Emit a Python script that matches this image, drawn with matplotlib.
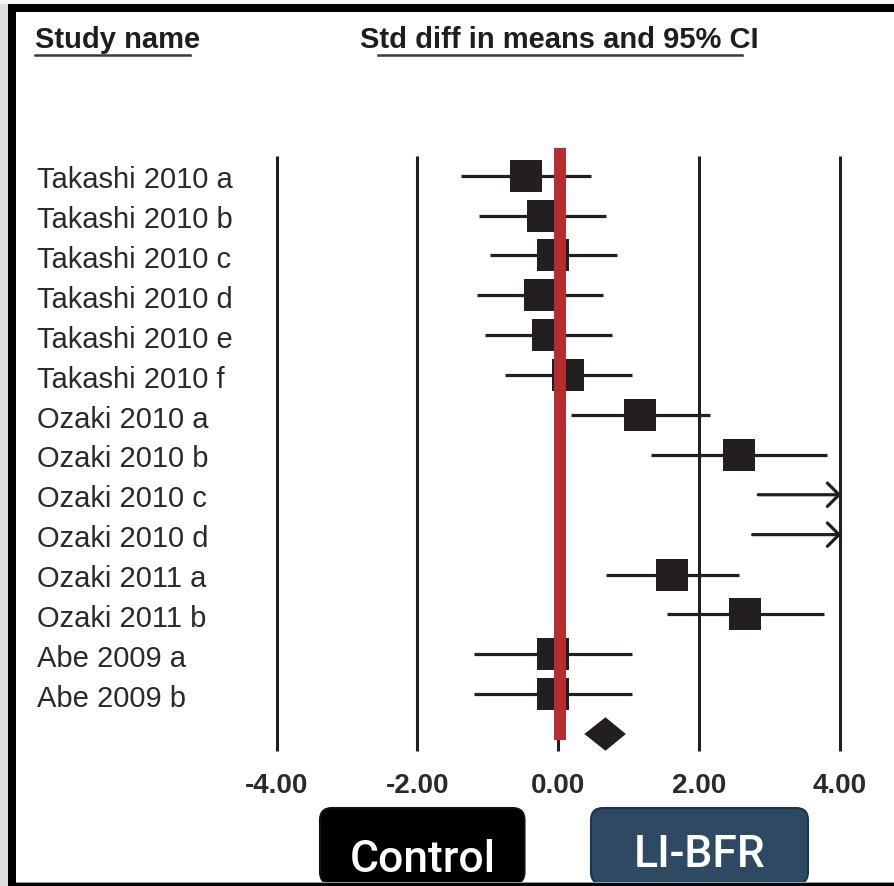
import numpy as np
import matplotlib
matplotlib.use('Agg')
import matplotlib.pyplot as plt
from matplotlib.patches import FancyBboxPatch, Rectangle, FancyArrowPatch
from matplotlib.lines import Line2D
from matplotlib.transforms import blended_transform_factory

#-------------------------------------------------------------------------------
#DATA

studies = ['Takashi 2010 a', 'Takashi 2010 b', 'Takashi 2010 c',
           'Takashi 2010 d', 'Takashi 2010 e', 'Takashi 2010 f',
           'Ozaki 2010 a', 'Ozaki 2010 b', 'Ozaki 2010 c', 'Ozaki 2010 d',
           'Ozaki 2011 a', 'Ozaki 2011 b', 'Abe 2009 a', 'Abe 2009 b']

#std diff in means with 95% CI (nan = beyond the plotted range)
est = [-0.46, -0.22, -0.07, -0.26, -0.14, 0.14, 1.16, 2.56,
       np.nan, np.nan, 1.62, 2.65, -0.08, -0.08]
lo = [-1.38, -1.12, -0.97, -1.16, -1.04, -0.76, 0.18, 1.32,
      2.84, 2.76, 0.68, 1.54, -1.20, -1.20]
hi = [0.46, 0.68, 0.84, 0.64, 0.76, 1.05, 2.16, 3.81,
      np.nan, np.nan, 2.56, 3.77, 1.04, 1.04]

#pooled estimate (est, lo, hi)
pooled = (0.67, 0.37, 0.96)

xticks = [-4, -2, 0, 2, 4]
xticklabels = ['-4.00', '-2.00', '0.00', '2.00', '4.00']

#-------------------------------------------------------------------------------
#LAYOUT

W, H = 894, 887
X0 = 558.3      #pixel column of zero
XU = 70.4       #pixels per unit
Y0 = 176.7      #pixel row of first study
YU = 39.88      #pixels per study row
XMAX = 4.02     #right edge of the plot, where truncated CIs end

INK = '#231f20'
RED = '#b82b30'
TXT = '#2a2a2a'
LABEL_FONT = 'Liberation Sans'
BOX_FONT = 'Roboto'

fx = lambda px: px/W
fy = lambda py: 1 - py/H

#-------------------------------------------------------------------------------
#MAIN

fig = plt.figure(figsize=(W/100, H/100), dpi=100)
fig.patch.set_facecolor('white')

ax = fig.add_axes([0, 0, 1, 1])
ax.axis('off')
ax.set_xlim(-X0/XU, (W - X0)/XU)
ax.set_ylim((H - Y0)/YU, -Y0/YU)

rows = np.arange(len(studies))
est = np.array(est)
lo = np.array(lo)
hi = np.array(hi)

#reference lines
ax.vlines(xticks, -0.5, 14.42, colors=INK, lw=2.2, capstyle='butt', zorder=1)

#confidence intervals
ok = ~np.isnan(hi)
ax.hlines(rows[ok], lo[ok], hi[ok], colors=INK, lw=2.3, capstyle='butt', zorder=2)
for r in rows[~ok]:
    ax.add_patch(FancyArrowPatch((lo[r], r), (XMAX, r),
                                 arrowstyle='->,head_length=0.42,head_width=0.42',
                                 mutation_scale=20, color=INK, lw=2.3,
                                 shrinkA=0, shrinkB=0, zorder=2))

#point estimates
ax.plot(est, rows, 's', ms=22.5, color=INK, mew=0, zorder=3)

#pooled diamond
pe, pl, ph = pooled
yd = len(studies)
ax.fill([pl, pe, ph, pe], [yd, yd - 0.42, yd, yd + 0.42], color=INK, lw=0, zorder=3)

#line of no effect
ax.vlines(0.02, -0.69, 14.14, colors=RED, lw=8.6, capstyle='butt', zorder=4)

#tick labels
for t, s in zip(xticks, xticklabels):
    ax.text(t, 15.46, s, ha='center', va='baseline', fontsize=20,
            fontweight='bold', family=LABEL_FONT, color=TXT)

#study names
tr = blended_transform_factory(fig.transFigure, ax.transData)
for r, s in zip(rows, studies):
    ax.text(fx(37), r + 0.29, s, transform=tr, ha='left', va='baseline',
            fontsize=21, family=LABEL_FONT, color=TXT)

#column headers
fig.text(fx(35), fy(48), 'Study name', ha='left', va='baseline', fontsize=21,
         fontweight='bold', family=LABEL_FONT, color='#1e1e1e')
fig.text(fx(360), fy(48), 'Std diff in means and 95% CI', ha='left',
         va='baseline', fontsize=21, fontweight='bold', family=LABEL_FONT,
         color='#1e1e1e')
for x1, x2 in [(35, 190), (378, 742)]:
    fig.add_artist(Line2D([fx(x1), fx(x2)], [fy(55.5), fy(55.5)],
                          transform=fig.transFigure, color='#3a3a3a', lw=1.8))

#favours boxes
boxes = [('Control', 320, 524.5, 'black', '#111111', 872),
         ('LI-BFR', 591, 808, '#2d4a62', '#1e3448', 867)]
for label, x1, x2, fc, ec, base in boxes:
    fig.add_artist(FancyBboxPatch((x1/100, 0.02), (x2 - x1)/100, (H - 0.02*100 - 809)/100,
                                  boxstyle='round,pad=0,rounding_size=0.12',
                                  transform=fig.dpi_scale_trans,
                                  facecolor=fc, edgecolor=ec, lw=1.5, zorder=2))
    fig.text(fx((x1 + x2)/2), fy(base), label, ha='center', va='baseline',
             fontsize=32, fontweight='medium', family=BOX_FONT, color='white',
             zorder=3)

#frame
fig.add_artist(Rectangle((0, 0), fx(8), 1, transform=fig.transFigure,
                         facecolor='#dcdcdc', lw=0, zorder=5))
fig.add_artist(Rectangle((0, fy(5)), 1, 5/H, transform=fig.transFigure,
                         facecolor='#f5f5f5', lw=0, zorder=5))
fig.add_artist(Rectangle((fx(8), fy(13)), 1, 8/H, transform=fig.transFigure,
                         facecolor='black', lw=0, zorder=6))
fig.add_artist(Rectangle((fx(8), 0), 8/W, fy(5), transform=fig.transFigure,
                         facecolor='black', lw=0, zorder=6))
fig.add_artist(Rectangle((fx(16), 0), 1, 3/H, transform=fig.transFigure,
                         facecolor='black', lw=0, zorder=6))
fig.add_artist(Rectangle((fx(16), 3/H), 1, 1/H, transform=fig.transFigure,
                         facecolor='#9a9a9a', lw=0, zorder=6))

fig.savefig('out.png', dpi=100)
